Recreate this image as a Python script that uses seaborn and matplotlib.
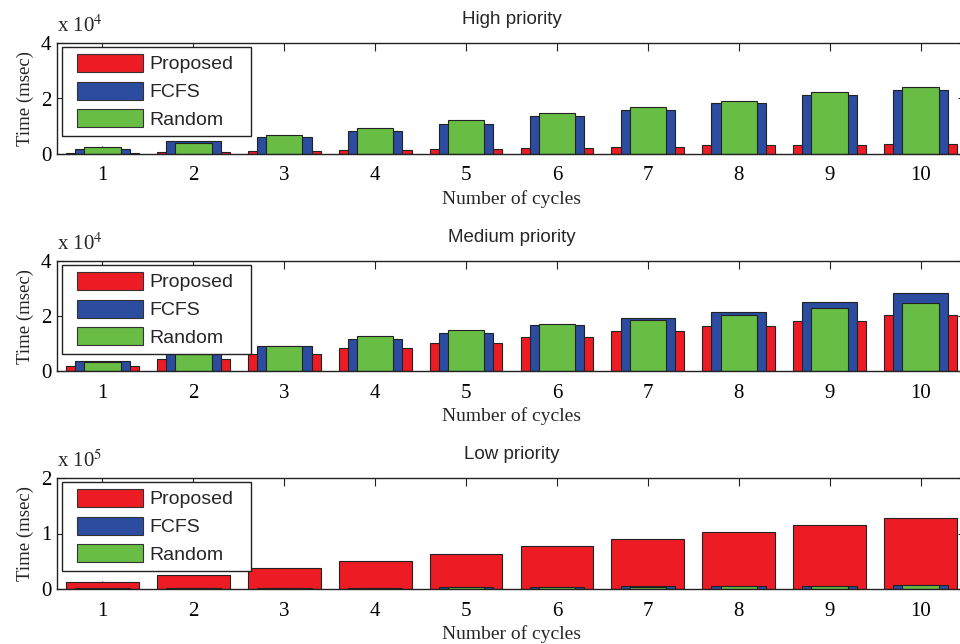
# overlapping bar charts, three priority levels
import numpy as np
import pandas as pd
import matplotlib.pyplot as plt
import matplotlib.ticker as mticker
from matplotlib.patches import Patch, Rectangle
from matplotlib.legend_handler import HandlerPatch
import seaborn as sb

# data (msec)
cycles = [1, 2, 3, 4, 5, 6, 7, 8, 9, 10]

high_proposed = [300, 700, 1100, 1450, 1800, 2200, 2600, 3100, 3400, 3700]
high_fcfs = [1900, 4800, 6300, 8300, 10800, 13700, 15900, 18300, 21100, 23000]
high_random = [2500, 4100, 7000, 9500, 12300, 14800, 17000, 19200, 22300, 24100]

medium_proposed = [1800, 4300, 6100, 8200, 10100, 12200, 14400, 16300, 18300, 20400]
medium_fcfs = [3800, 7000, 9100, 11700, 13900, 16600, 19300, 21300, 25000, 28300]
medium_random = [3400, 6800, 9100, 12600, 14800, 17200, 18500, 20400, 22800, 24900]

low_proposed = [13000, 25000, 38500, 51000, 63000, 78000, 90000, 102000, 116000, 128000]
low_fcfs = [1000, 1500, 2000, 2500, 3500, 4500, 5000, 5200, 5500, 7500]
low_random = [800, 1200, 1600, 2200, 3000, 4000, 4500, 4800, 5000, 6500]

titles = ["High priority", "Medium priority", "Low priority"]
series_names = ["Proposed", "FCFS", "Random"]
panels = [
    (high_proposed, high_fcfs, high_random),
    (medium_proposed, medium_fcfs, medium_random),
    (low_proposed, low_fcfs, low_random),
]
ymax = [4e4, 4e4, 2e5]
yticks = [[0, 2e4, 4e4], [0, 2e4, 4e4], [0, 1e5, 2e5]]
exps = [4, 4, 5]

colors = ["#ED1C24", "#2B4C9F", "#68BD45"]
widths = [0.8, 0.6, 0.4]

sb.set_theme(style="ticks")
plt.rcParams["font.family"] = ["Liberation Serif", "DejaVu Serif"]
plt.rcParams["mathtext.fontset"] = "stix"
sans = ["Liberation Sans", "DejaVu Sans"]

fig = plt.figure(figsize=(9.6, 6.44), dpi=100)

# axes positions in pixels (left, top, bottom); right side runs off the figure
ax_px = [(57, 43, 154), (57, 261, 371), (57, 478, 589)]
W, H = 960.0, 644.0


# legend swatch with a little room on its left
def swatch(legend, orig_handle, xdescent, ydescent, width, height, fontsize):
    return Rectangle((-xdescent + 6, -ydescent), width - 6, height)


for k in range(3):
    left, top, bot = ax_px[k]
    ax = fig.add_axes([left / W, 1 - bot / H, 909 / W, (bot - top) / H])
    df = pd.DataFrame({"cycle": cycles})
    for s in range(3):
        df[series_names[s]] = panels[k][s]
        sb.barplot(data=df, x="cycle", y=series_names[s], native_scale=True,
                   width=widths[s], color=colors[s], saturation=1,
                   edgecolor="#222222", linewidth=0.8, ax=ax)

    ax.set_xlim(0.5, 10.5)
    ax.set_ylim(0, ymax[k])
    ax.set_xticks(cycles)
    ax.set_xticklabels([str(c) for c in cycles], fontsize=15)
    ax.set_yticks(yticks[k])
    e = exps[k]
    ax.yaxis.set_major_formatter(mticker.FuncFormatter(lambda v, _, e=e: f"{v / 10**e:g}"))
    for lab in ax.get_yticklabels():
        lab.set_fontsize(15)
    ax.tick_params(direction="in", top=True, right=True, length=5.5, width=0.8,
                   colors="#222222", labelcolor="black")
    ax.tick_params(axis="x", pad=9)
    ax.tick_params(axis="y", pad=4)
    for b in ["top", "bottom", "left", "right"]:
        ax.spines[b].set_linewidth(1.0)
        ax.spines[b].set_color("#222222")

    ax.set_xlabel("Number of cycles", fontsize=14, labelpad=3)
    ax.set_ylabel("Time (msec)", fontsize=13.5, labelpad=5)
    ax.set_title(titles[k], fontsize=13.5, pad=14, family=sans)
    ax.annotate(r"x 10$^{%d}$" % e, xy=(0, 1), xycoords="axes fraction",
                xytext=(0, 4), textcoords="offset points", ha="left", va="bottom",
                fontsize=15)

    handles = [Patch(facecolor=colors[s], edgecolor="#333333", linewidth=0.8,
                     label=series_names[s]) for s in range(3)]
    # legend box spans about 189 px wide from 5 px inside the left spine
    bw = 189 / 909
    leg = ax.legend(handles=handles, loc="upper left", mode="expand",
                    bbox_to_anchor=(5 / 909, 1 - 4 / (bot - top), bw, 0.0),
                    borderaxespad=0, fancybox=False, framealpha=1,
                    edgecolor="#222222", handlelength=3.8,
                    handleheight=1.05, labelspacing=0.42, handletextpad=0.35,
                    borderpad=0.35, prop={"family": sans, "size": 14},
                    handler_map={Patch: HandlerPatch(patch_func=swatch)})
    leg.get_frame().set_linewidth(1.0)
    leg.set_zorder(10)

plt.savefig("out.png", dpi=100)
